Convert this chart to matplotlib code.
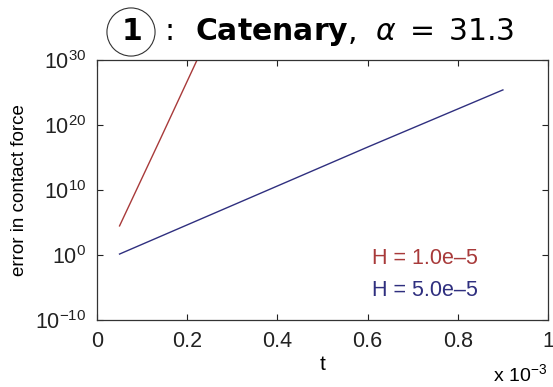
import math
import matplotlib
matplotlib.use("Agg")
import matplotlib.pyplot as plt
from matplotlib.ticker import FixedLocator, FuncFormatter

plt.rcParams['font.family'] = ['Liberation Sans', 'DejaVu Sans']

# time axis is in units of 1e-3
t_fine = [0.05, 0.14, 0.25]
err_fine = [3.0e4, 6.0e17, 1.6e34]

t_coarse = [0.05, 0.6, 0.9]
err_coarse = [1.4e0, 4.0e16, 2.5e25]

labels = ['H = 1.0e\u20135', 'H = 5.0e\u20135']
colors = ['#a83a3a', '#2f2f7f']

fig = plt.figure(figsize=(5.53, 3.87), dpi=100)
ax = fig.add_axes([97 / 553, 67 / 387, 451 / 553, 260 / 387])

ax.semilogy(t_fine, err_fine, color=colors[0], lw=1.0)
ax.semilogy(t_coarse, err_coarse, color=colors[1], lw=1.0)

ax.set_xlim(0, 1)
ax.set_ylim(1e-10, 1e30)
ax.xaxis.set_major_locator(FixedLocator([0, 0.2, 0.4, 0.6, 0.8, 1.0]))
ax.xaxis.set_major_formatter(FuncFormatter(lambda v, p: '%g' % v))
ax.yaxis.set_major_locator(FixedLocator([1e-10, 1e0, 1e10, 1e20, 1e30]))
ax.yaxis.set_minor_locator(FixedLocator([]))
ax.yaxis.set_major_formatter(FuncFormatter(
    lambda v, p: r'$\mathregular{10^{%d}}$' % round(math.log10(v))))

ax.tick_params(direction='in', top=True, right=True, length=4, width=0.8,
               labelsize=15.5, pad=8, colors='#222222')
for s in ax.spines.values():
    s.set_linewidth(0.9)
    s.set_color('#333333')

ax.set_xlabel('t', fontsize=15, labelpad=2)
ax.set_ylabel('error in contact force', fontsize=13.5, labelpad=5)
fig.text(0.99, 0.005, r'x $\mathregular{10^{-3}}$', ha='right', va='bottom',
         fontsize=14)

ax.text(0.727, 0.238, labels[0], color=colors[0], fontsize=15.5,
        ha='center', va='center', transform=ax.transAxes)
ax.text(0.727, 0.115, labels[1], color=colors[1], fontsize=15.5,
        ha='center', va='center', transform=ax.transAxes)

# title: circled number, colon, case name and alpha
ty = 1 - 32 / 387
title_kw = dict(fontsize=21.5, va='center', family='DejaVu Sans',
                math_fontfamily='dejavusans')
fig.text(131 / 553, ty, r'$\mathbf{1}$', ha='center',
         bbox=dict(boxstyle='circle,pad=0.32', fc='none', ec='#333333', lw=0.8),
         **title_kw)
fig.text(170 / 553, ty, ':', ha='center', **title_kw)
fig.text(195 / 553, ty, r'$\mathbf{Catenary}$,  $\alpha\;=\;31.3$',
         ha='left', **title_kw)

fig.savefig('out.png', dpi=100)
